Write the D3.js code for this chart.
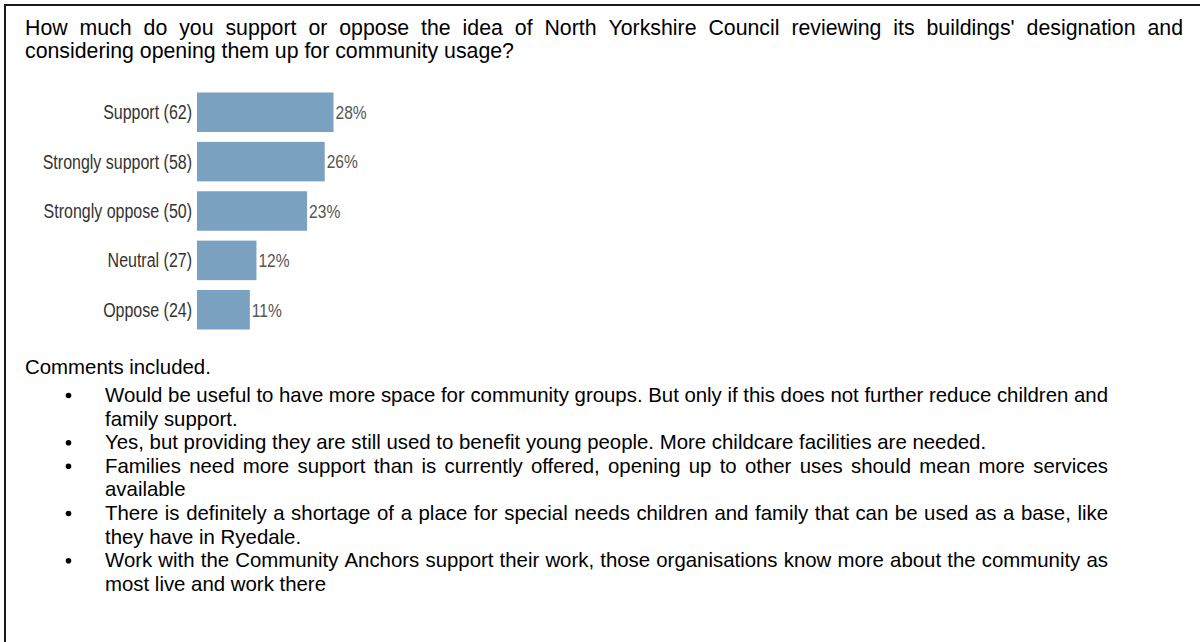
<!DOCTYPE html>
<html>
<head>
<meta charset="utf-8">
<script src="https://cdn.jsdelivr.net/npm/d3@7"></script>
<style>
  html, body { margin: 0; padding: 0; background: #fff; }
  svg { display: block; }
</style>
</head>
<body>
<svg id="chart" width="1200" height="642"></svg>
<script>
// ---- data ----
const categories = ["Support", "Strongly support", "Strongly oppose", "Neutral", "Oppose"];
const counts = [62, 58, 50, 27, 24];
const percents = [28, 26, 23, 12, 11];

const questionLines = [
  { text: "How much do you support or oppose the idea of North Yorkshire Council reviewing its buildings' designation and", justify: true },
  { text: "considering opening them up for community usage?", justify: false }
];
const commentsHeading = "Comments included.";
const comments = [
  [{ text: "Would be useful to have more space for community groups. But only if this does not further reduce children and", justify: true },
   { text: "family support.", justify: false }],
  [{ text: "Yes, but providing they are still used to benefit young people. More childcare facilities are needed.", justify: false }],
  [{ text: "Families need more support than is currently offered, opening up to other uses should mean more services", justify: true },
   { text: "available", justify: false }],
  [{ text: "There is definitely a shortage of a place for special needs children and family that can be used as a base, like", justify: true },
   { text: "they have in Ryedale.", justify: false }],
  [{ text: "Work with the Community Anchors support their work, those organisations know more about the community as", justify: true },
   { text: "most live and work there", justify: false }]
];

const svg = d3.select("#chart");
const bodyFont = "'Liberation Sans', Arial, sans-serif";

// frame lines (top and left)
svg.append("line").attr("x1", 4).attr("x2", 1200).attr("y1", 5).attr("y2", 5)
  .attr("stroke", "#1a1a1a").attr("stroke-width", 2);
svg.append("line").attr("x1", 5).attr("x2", 5).attr("y1", 4).attr("y2", 642)
  .attr("stroke", "#1a1a1a").attr("stroke-width", 2);

// text helper: draws a line, justified if requested
function drawLine(g, line, x0, x1, y, size) {
  if (!line.justify) {
    g.append("text").attr("x", x0).attr("y", y)
      .attr("font-family", bodyFont).attr("font-size", size).attr("fill", "#000")
      .text(line.text);
    return;
  }
  const words = line.text.split(" ");
  const nodes = words.map(w => g.append("text").attr("y", y)
      .attr("font-family", bodyFont).attr("font-size", size).attr("fill", "#000").text(w));
  const widths = nodes.map(n => n.node().getComputedTextLength());
  const total = d3.sum(widths);
  const gap = (x1 - x0 - total) / (words.length - 1);
  let x = x0;
  nodes.forEach((n, i) => { n.attr("x", x); x += widths[i] + gap; });
}

// question
const qg = svg.append("g");
const qBase = [35, 58];
questionLines.forEach((l, i) => drawLine(qg, l, 25, 1183, qBase[i], 21.3));

// ---- bar chart ----
const y = d3.scaleBand().domain(categories).range([92.5, 329.5]).paddingInner(0.2).paddingOuter(0);
const x = d3.scaleLinear().domain([0, 62]).range([197, 333.5]);
const barColor = "#7aa1bf";

const chart = svg.append("g");
chart.selectAll("rect.bar").data(categories).join("rect")
  .attr("class", "bar")
  .attr("x", x(0))
  .attr("y", d => y(d))
  .attr("width", (d, i) => x(counts[i]) - x(0))
  .attr("height", y.bandwidth())
  .attr("fill", barColor);

const narrowFont = "'Liberation Sans Narrow', 'Arial Narrow', sans-serif";
const labelG = chart.append("g");
const labels = labelG.selectAll("text").data(categories).join("text")
  .attr("x", 0)
  .attr("y", d => y(d) + y.bandwidth() / 2)
  .attr("dy", "0.36em")
  .attr("text-anchor", "end")
  .attr("font-family", narrowFont)
  .attr("font-size", 19.5)
  .attr("fill", "#333")
  .text((d, i) => `${d} (${counts[i]})`);

// check if a narrow face actually exists; otherwise condense horizontally
const probe = svg.append("text").attr("font-family", bodyFont).attr("font-size", 19.5).text("Strongly support (58)");
const wide = probe.node().getComputedTextLength();
probe.remove();
const narrowW = labels.filter((d, i) => i === 1).node().getComputedTextLength();
const condense = (narrowW / wide > 0.92) ? 0.82 : 1;
labels.attr("transform", `translate(192,0) scale(${condense},1)`);

const pctG = chart.append("g");
const pcts = pctG.selectAll("text").data(categories).join("text")
  .attr("x", 0)
  .attr("y", d => y(d) + y.bandwidth() / 2)
  .attr("dy", "0.36em")
  .attr("font-family", narrowFont)
  .attr("font-size", 19)
  .attr("fill", "#555")
  .attr("transform", (d, i) => `translate(${x(counts[i]) + 2},0) scale(${condense},1)`)
  .text((d, i) => percents[i] + "%");

// ---- comments ----
const cg = svg.append("g");
cg.append("text").attr("x", 25).attr("y", 374)
  .attr("font-family", bodyFont).attr("font-size", 20.4).attr("fill", "#000")
  .text(commentsHeading);

let base = 402;
const lineStep = 23.6;
comments.forEach(c => {
  cg.append("circle").attr("cx", 68.5).attr("cy", base - 6.5).attr("r", 2.8).attr("fill", "#000");
  c.forEach(l => {
    drawLine(cg, l, 105, 1108, base, 20.4);
    base += lineStep;
  });
});
</script>
</body>
</html>
